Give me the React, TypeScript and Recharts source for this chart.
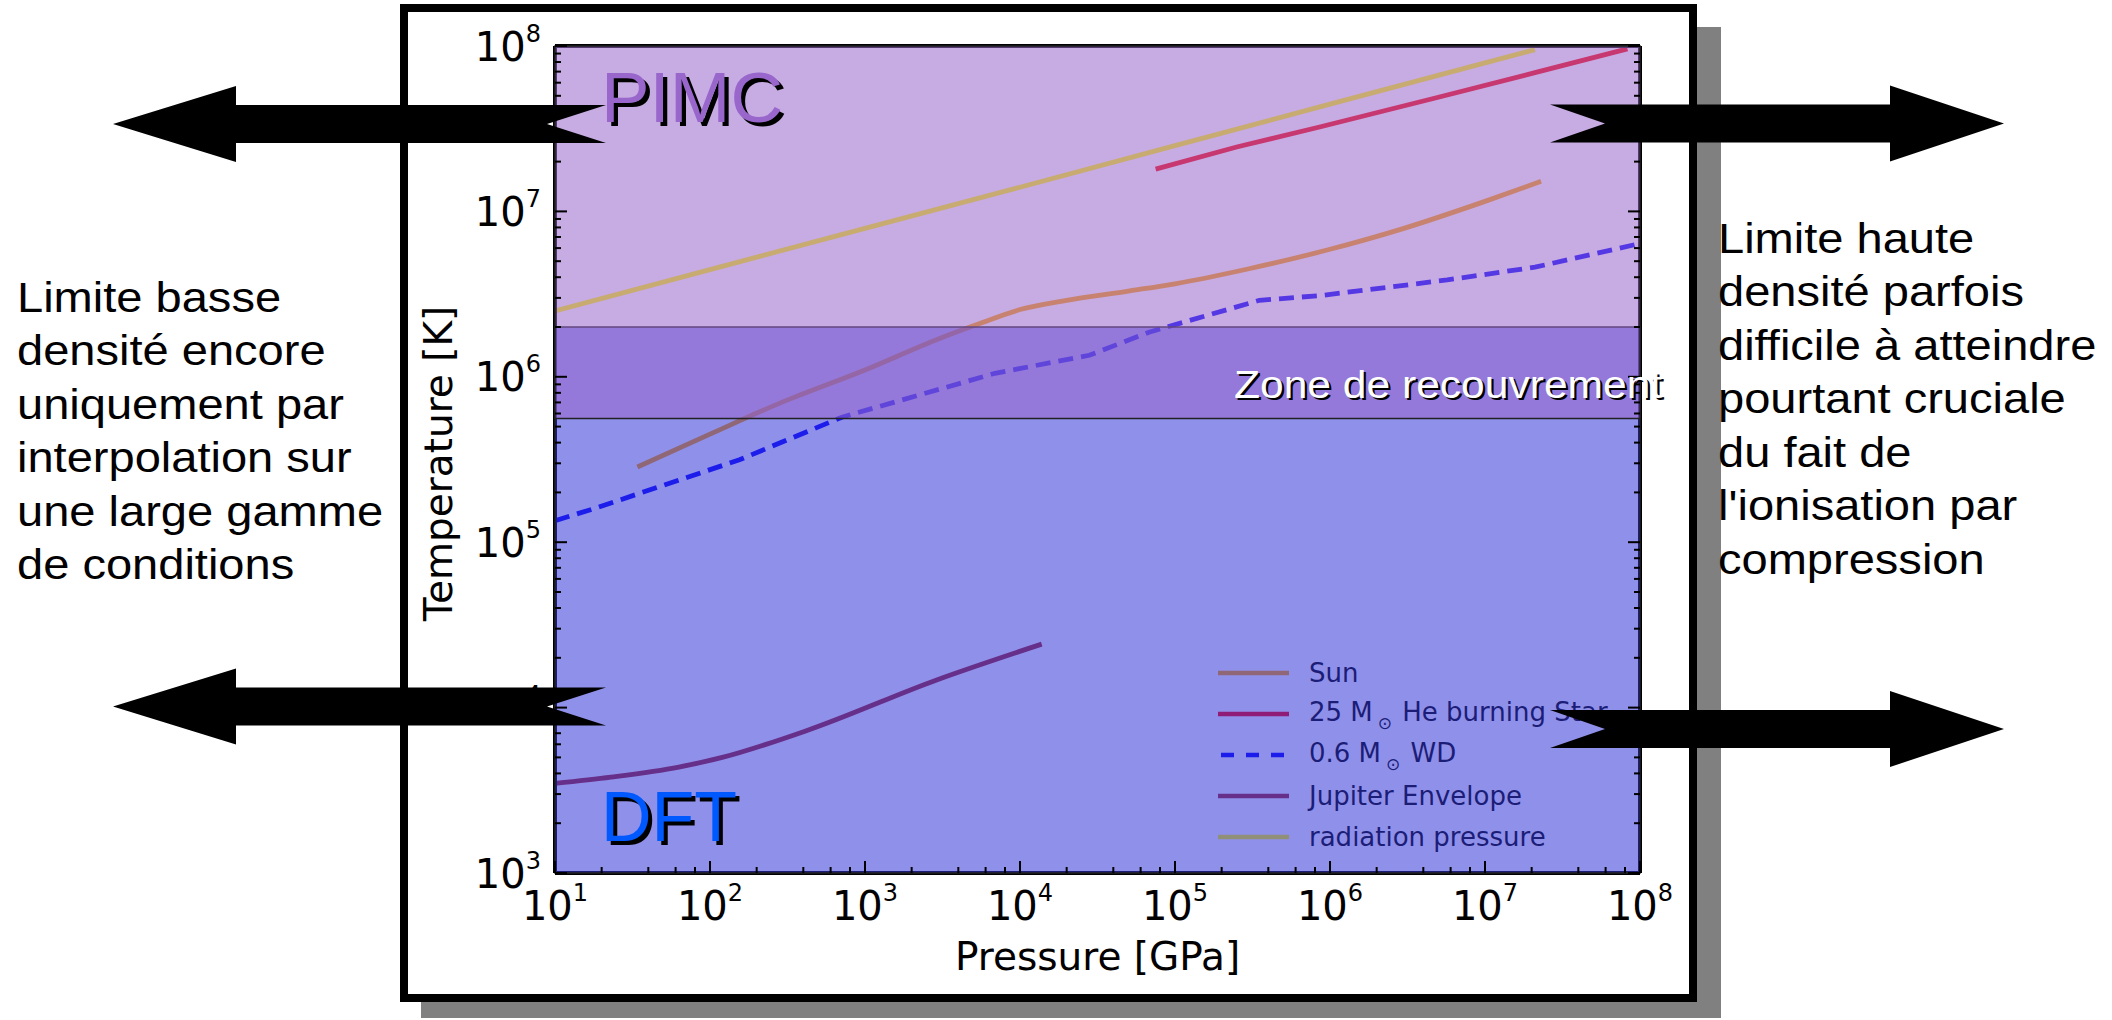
import React from 'react';
import { LineChart, Line, XAxis, YAxis, ReferenceArea, Legend, Label } from 'recharts';

// ---------------- data (pressure in GPa, temperature in K) ----------------
const sunPressure = [34, 100, 300, 1e3, 3e3, 5.5e3, 1e4, 2e4, 5e4, 1e5, 3e5, 1e6, 3e6, 1e7, 2.3e7];
const sunTemperature = [2.85e5, 4.5e5, 7.1e5, 1.1e6, 1.7e6, 2.1e6, 2.55e6, 2.9e6, 3.3e6, 3.65e6, 4.5e6, 5.9e6, 7.9e6, 1.15e7, 1.52e7];

const heStarPressure = [7.5e4, 2.5e5, 8.7e5, 5e6, 2.1e7, 8.3e7];
const heStarTemperature = [1.8e7, 2.45e7, 3.25e7, 4.9e7, 6.9e7, 9.6e7];

const wdPressure = [10, 18, 155, 710, 6.9e3, 2.8e4, 6.8e4, 3.5e5, 8.7e5, 5.7e6, 2.1e7, 9.3e7];
const wdTemperature = [1.35e5, 1.6e5, 3.15e5, 5.7e5, 1.05e6, 1.35e6, 1.86e6, 2.9e6, 3.1e6, 3.85e6, 4.6e6, 6.3e6];

const jupiterPressure = [10, 23, 63, 120, 427, 2.9e3, 1.38e4];
const jupiterTemperature = [3.48e3, 3.8e3, 4.37e3, 5.0e3, 7.3e3, 1.47e4, 2.42e4];

const radiationPressure = [10, 1e2, 1e3, 1e4, 1e5, 1e6, 1e7, 2.1e7];
const radiationTemperature = [2.5e6, 4.45e6, 7.9e6, 1.4e7, 2.5e7, 4.45e7, 7.9e7, 9.5e7];

// zones (temperature limits)
const pimcZone = [5.6e5, 1e8];
const dftZone = [1e3, 2.0e6];

// axes
const xDomain = [1e1, 1e8];
const yDomain = [1e3, 1e8];
const xExponents = [1, 2, 3, 4, 5, 6, 7, 8];
const yExponents = [3, 4, 5, 6, 7, 8];
const xMinorSubs = [2, 4, 6, 8];
const yMinorSubs = [2, 3, 4, 5, 6, 7, 8, 9];

const leftText = ['Limite basse', 'densité encore', 'uniquement par', 'interpolation sur', 'une large gamme', 'de conditions'];
const rightText = ['Limite haute', 'densité parfois', 'difficile à atteindre', 'pourtant cruciale', 'du fait de', "l'ionisation par", 'compression'];

// ---------------- helpers ----------------
const rows = (p: number[], t: number[]) => p.map((v, i) => ({ p: v, t: t[i] }));
const buildTicks = (exps: number[], subs: number[]) => {
  const out: number[] = [];
  exps.forEach((e, i) => {
    out.push(Math.pow(10, e));
    if (i < exps.length - 1) subs.forEach((s) => out.push(s * Math.pow(10, e)));
  });
  return out.sort((a, b) => a - b);
};
const xTicks = buildTicks(xExponents, xMinorSubs);
const yTicks = buildTicks(yExponents, yMinorSubs);

const PIMC_RGB = [153, 102, 204];
const DFT_RGB = [51, 53, 217];
const ZONE_ALPHA = 0.55;
const rgb = (c: number[]) => `rgb(${c.map((v) => Math.round(v)).join(',')})`;
const underDft = (c: number[]) => rgb(c.map((v, i) => v * (1 - ZONE_ALPHA) + DFT_RGB[i] * ZONE_ALPHA));

const SERIES = [
  { key: 'sun', name: 'Sun', data: rows(sunPressure, sunTemperature), base: [255, 165, 0], dash: undefined as string | undefined, curve: 'monotone' },
  { key: 'he', name: '25 M⊙ He burning Star', data: rows(heStarPressure, heStarTemperature), base: [255, 0, 0], dash: undefined, curve: 'linear' },
  { key: 'wd', name: '0.6 M⊙ WD', data: rows(wdPressure, wdTemperature), base: [0, 0, 255], dash: '15 8', curve: 'linear' },
  { key: 'jup', name: 'Jupiter Envelope', data: rows(jupiterPressure, jupiterTemperature), base: [165, 42, 42], dash: undefined, curve: 'monotone' },
  { key: 'rad', name: 'radiation pressure', data: rows(radiationPressure, radiationTemperature), base: [255, 255, 0], dash: undefined, curve: 'linear' },
];

const TICK_FONT = 'DejaVu Sans';

function AxisTick(props: any) {
  const { x, y, payload, side } = props;
  const v = payload?.value;
  if (v == null) return <g />;
  const lg = Math.log10(v);
  const e = Math.round(lg);
  const major = Math.abs(lg - e) < 1e-6;
  const len = major ? 12 : 6;
  const st = { stroke: '#000', strokeWidth: 2 };
  if (side === 'bottom') {
    return (
      <g>
        <line x1={x} x2={x} y1={y} y2={y - len} {...st} />
        {major && (
          <text x={x} y={y + 47} textAnchor="middle" fontFamily={TICK_FONT} fontSize={40} fill="#000">
            10<tspan dy={-19} fontSize={24}>{e}</tspan>
          </text>
        )}
      </g>
    );
  }
  if (side === 'top') {
    return <line x1={x} x2={x} y1={y} y2={y + len} {...st} />;
  }
  if (side === 'left') {
    return (
      <g>
        <line x1={x} x2={x + len} y1={y} y2={y} {...st} />
        {major && (
          <text x={x - 14} y={y + 14.5} textAnchor="end" fontFamily={TICK_FONT} fontSize={40} fill="#000">
            10<tspan dy={-19} fontSize={24}>{e}</tspan>
          </text>
        )}
      </g>
    );
  }
  return <line x1={x} x2={x - len} y1={y} y2={y} {...st} />;
}

function renderName(name: string) {
  const parts = name.split('⊙');
  if (parts.length < 2) return name;
  return (
    <>
      {parts[0]}
      <span style={{ fontSize: 17, position: 'relative', top: 8, marginLeft: 5, marginRight: 2 }}>⊙</span>
      {parts[1]}
    </>
  );
}

const renderLegend = () => (
  <div style={{ fontFamily: TICK_FONT, fontSize: 26, color: rgb(DFT_RGB.map((c) => c * ZONE_ALPHA)) }}>
    {SERIES.map((s) => (
      <div key={s.key} style={{ display: 'flex', alignItems: 'center', height: 41, whiteSpace: 'nowrap' }}>
        <svg width={71} height={10} style={{ display: 'block' }}>
          <line x1={s.dash ? 3 : 0} x2={71} y1={5} y2={5} stroke={underDft(s.base)} strokeWidth={4.5} strokeDasharray={s.dash ? '13 12' : undefined} />
        </svg>
        <span style={{ marginLeft: 20, lineHeight: '30px' }}>{renderName(s.name)}</span>
      </div>
    ))}
  </div>
);

const xLabel = (props: any) => {
  const vb = props.viewBox || { x: 155, y: 873, width: 1085, height: 90 };
  return (
    <text x={vb.x + vb.width / 2} y={vb.y + 97} textAnchor="middle" fontFamily={TICK_FONT} fontSize={39} fill="#000">
      Pressure [GPa]
    </text>
  );
};
const yLabel = (props: any) => {
  const vb = props.viewBox || { x: 0, y: 46, width: 155, height: 827 };
  const cx = vb.x + 52;
  const cy = vb.y + vb.height / 2 + 4;
  return (
    <text x={cx} y={cy} transform={`rotate(-90, ${cx}, ${cy})`} textAnchor="middle" fontFamily={TICK_FONT} fontSize={39} fill="#000">
      Temperature [K]
    </text>
  );
};

function LeftArrow({ cy }: { cy: number }) {
  const pts = [[113, cy], [236, cy - 38], [236, cy - 19], [606, cy - 19], [547, cy], [606, cy + 19], [236, cy + 19], [236, cy + 38]];
  return <polygon points={pts.map((p) => p.join(',')).join(' ')} fill="#000" />;
}
function RightArrow({ cy }: { cy: number }) {
  const pts = [[1550, cy - 19], [1890, cy - 19], [1890, cy - 38], [2004, cy], [1890, cy + 38], [1890, cy + 19], [1550, cy + 19], [1605, cy]];
  return <polygon points={pts.map((p) => p.join(',')).join(' ')} fill="#000" />;
}

const impressText: React.CSSProperties = {
  position: 'absolute',
  fontFamily: 'Liberation Sans',
  fontSize: 42,
  lineHeight: '53.5px',
  whiteSpace: 'pre',
  color: '#000',
  transform: 'scaleX(1.12)',
  transformOrigin: '0 0',
};

export default function App() {
  return (
    <div style={{ position: 'fixed', left: 0, top: 0, width: 2112, height: 1020, background: '#fff', overflow: 'hidden' }}>
      {/* shadow + frame */}
      <div style={{ position: 'absolute', left: 421, top: 27, width: 1300, height: 991, background: '#808080' }} />
      <div style={{ position: 'absolute', left: 400, top: 4, width: 1297, height: 998, border: '8px solid #000', boxSizing: 'border-box', background: '#fff' }} />

      <div style={{ position: 'absolute', left: 400, top: 0 }}>
        <LineChart width={1297} height={1000} margin={{ top: 45, right: 56, bottom: 37, left: 0 }}>
          <XAxis
            dataKey="p"
            type="number"
            scale="log"
            domain={xDomain}
            allowDataOverflow
            ticks={xTicks}
            interval={0}
            tickSize={0}
            tickMargin={0}
            tickLine={false}
            axisLine={{ stroke: '#000', strokeWidth: 4 }}
            tick={(p: any) => <AxisTick {...p} side="bottom" />}
            height={90}
          >
            <Label content={xLabel} />
          </XAxis>
          <XAxis
            xAxisId="top"
            orientation="top"
            type="number"
            scale="log"
            domain={xDomain}
            allowDataOverflow
            ticks={xTicks}
            interval={0}
            tickSize={0}
            tickMargin={0}
            tickLine={false}
            axisLine={{ stroke: '#000', strokeWidth: 4 }}
            tick={(p: any) => <AxisTick {...p} side="top" />}
            height={1}
          />
          <YAxis
            type="number"
            scale="log"
            domain={yDomain}
            allowDataOverflow
            ticks={yTicks}
            interval={0}
            tickSize={0}
            tickMargin={0}
            tickLine={false}
            axisLine={{ stroke: '#000', strokeWidth: 4 }}
            tick={(p: any) => <AxisTick {...p} side="left" />}
            width={155}
          >
            <Label content={yLabel} />
          </YAxis>
          <YAxis
            yAxisId="right"
            orientation="right"
            type="number"
            scale="log"
            domain={yDomain}
            allowDataOverflow
            ticks={yTicks}
            interval={0}
            tickSize={0}
            tickMargin={0}
            tickLine={false}
            axisLine={{ stroke: '#000', strokeWidth: 4 }}
            tick={(p: any) => <AxisTick {...p} side="right" />}
            width={1}
          />
          {SERIES.map((s) => (
            <Line
              key={s.key}
              data={s.data}
              dataKey="t"
              name={s.name}
              type={s.curve as any}
              stroke={rgb(s.base)}
              strokeWidth={4.8}
              strokeDasharray={s.dash}
              dot={false}
              activeDot={false}
              isAnimationActive={false}
            />
          ))}
          <ReferenceArea y1={dftZone[0]} y2={dftZone[1]} fill={rgb(DFT_RGB)} fillOpacity={ZONE_ALPHA} stroke="#222" strokeWidth={1.5} {...({ zIndex: 900 } as any)} />
          <ReferenceArea y1={pimcZone[0]} y2={pimcZone[1]} fill={rgb(PIMC_RGB)} fillOpacity={ZONE_ALPHA} stroke="#222" strokeWidth={1.5} {...({ zIndex: 901 } as any)} />
          <Legend layout="vertical" align="center" verticalAlign="middle" wrapperStyle={{ left: 818, top: 652, width: 520 }} content={renderLegend} />
        </LineChart>
      </div>

      {/* overlaid slide texts */}
      <div style={{ position: 'absolute', left: 601, top: 63, fontFamily: 'Liberation Sans', fontSize: 70, lineHeight: '70px', color: '#9966cc', textShadow: '4px 4px 0 #000', transform: 'scaleX(1.04)', transformOrigin: '0 0' }}>PIMC</div>
      <div style={{ position: 'absolute', left: 601, top: 782, fontFamily: 'Liberation Sans', fontSize: 70, lineHeight: '70px', color: '#0058ff', textShadow: '4px 4px 0 #000', transformOrigin: '0 0' }}>DFT</div>
      <div style={{ position: 'absolute', left: 1234, top: 366, fontFamily: 'Liberation Sans', fontSize: 38, lineHeight: '38px', color: '#fff', textShadow: '2px 2px 0 #000', whiteSpace: 'pre', transform: 'scaleX(1.12)', transformOrigin: '0 0' }}>Zone de recouvrement</div>

      <div style={{ ...impressText, left: 17, top: 270.7 }}>{leftText.join('\n')}</div>
      <div style={{ ...impressText, left: 1718, top: 211.7 }}>{rightText.join('\n')}</div>

      <svg width={2112} height={1020} style={{ position: 'absolute', left: 0, top: 0, pointerEvents: 'none' }}>
        <LeftArrow cy={124} />
        <LeftArrow cy={706.5} />
        <RightArrow cy={123.5} />
        <RightArrow cy={729} />
      </svg>
    </div>
  );
}
